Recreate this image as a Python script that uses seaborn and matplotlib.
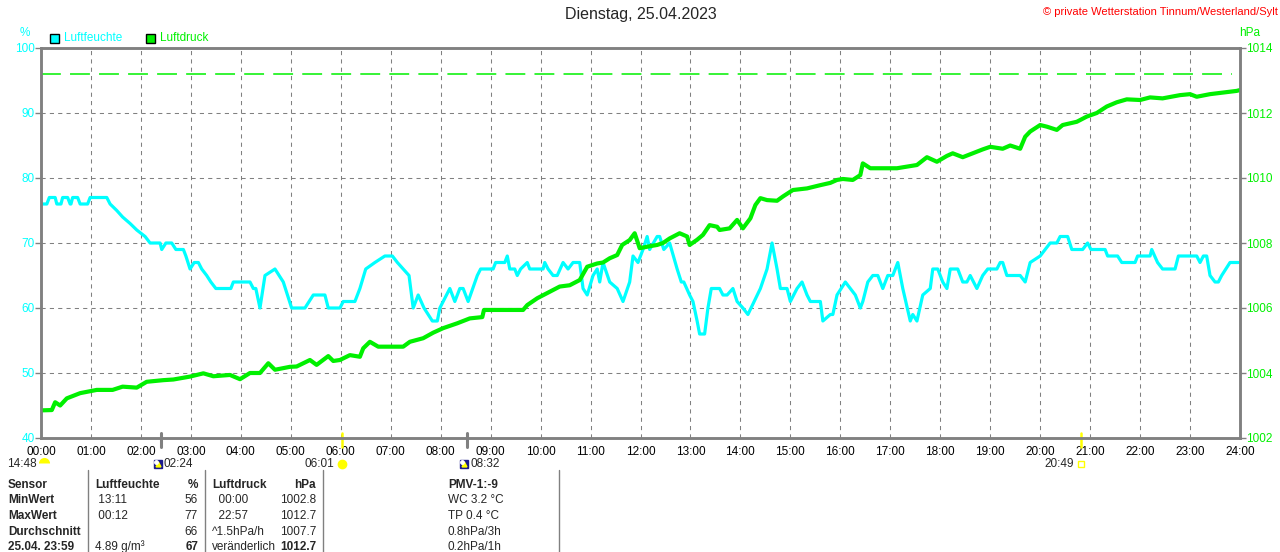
import matplotlib
matplotlib.use("Agg")
import matplotlib.pyplot as plt
from matplotlib.patches import Rectangle
from matplotlib.lines import Line2D
from matplotlib.transforms import ScaledTranslation
import seaborn as sns

sns.set_style("white")
plt.rcParams['font.family'] = ['Liberation Sans', 'DejaVu Sans']

# Luftfeuchte (%) - minutes since midnight / value
hum_min = [0, 7, 10, 17, 19, 24, 26, 32, 35, 36, 38, 44, 47, 56, 59, 79, 83, 91, 98, 107,
           115, 125, 131, 143, 145, 150, 157, 162, 171, 174, 179, 184, 189, 193, 199, 204,
           210, 228, 231, 251, 255, 258, 263, 269, 281, 291, 301, 317, 322, 327, 341, 345,
           359, 363, 377, 383, 390, 401, 413, 422, 428, 435, 442, 447, 453, 460, 470, 476,
           479, 491, 497, 503, 507, 513, 524, 528, 543, 546, 557, 560, 563, 569, 572, 576,
           584, 587, 603, 605, 609, 615, 620, 627, 633, 639, 647, 651, 656, 663, 668, 671,
           675, 683, 692, 699, 707, 711, 717, 723, 728, 731, 740, 743, 748, 755, 764, 769,
           772, 779, 783, 788, 791, 797, 801, 805, 815, 819, 824, 831, 836, 843, 849, 864,
           872, 878, 884, 888, 896, 900, 908, 914, 920, 924, 936, 939, 948, 951, 956, 966,
           972, 978, 984, 987, 993, 999, 1005, 1011, 1017, 1023, 1029, 1035, 1044, 1047,
           1052, 1059, 1068, 1071, 1077, 1083, 1088, 1092, 1101, 1107, 1112, 1116, 1124,
           1131, 1137, 1148, 1152, 1155, 1160, 1176, 1182, 1188, 1200, 1212, 1220, 1224,
           1233, 1238, 1251, 1257, 1261, 1278, 1281, 1293, 1298, 1314, 1317, 1332, 1334,
           1341, 1347, 1362, 1366, 1388, 1392, 1396, 1400, 1404, 1410, 1414, 1418, 1423,
           1428, 1438]
hum_val = [76, 76, 77, 77, 76, 76, 77, 77, 76, 76, 77, 77, 76, 76, 77, 77, 76, 75, 74, 73,
           72, 71, 70, 70, 69, 70, 70, 69, 69, 68, 66, 67, 67, 66, 65, 64,
           63, 63, 64, 64, 63, 63, 60, 65, 66, 64, 60, 60, 61, 62, 62, 60,
           60, 61, 61, 63, 66, 67, 68, 68, 67, 66, 65, 60, 62, 60, 58, 58,
           60, 63, 61, 63, 63, 61, 65, 66, 66, 67, 67, 68, 66, 66, 65, 66,
           67, 66, 66, 67, 66, 65, 65, 67, 66, 67, 67, 63, 62, 65, 66, 64,
           67, 64, 63, 61, 64, 68, 67, 69, 71, 69, 71, 71, 69, 70, 66, 64,
           64, 62, 61, 58, 56, 56, 60, 63, 63, 62, 62, 63, 61, 60, 59, 63,
           66, 70, 66, 63, 63, 61, 63, 64, 62, 61, 61, 58, 59, 59, 62, 64,
           63, 62, 60, 61, 64, 65, 65, 63, 65, 65, 67, 63, 58, 59,
           58, 62, 63, 66, 66, 64, 63, 66, 66, 64, 64, 65, 63,
           65, 66, 66, 67, 67, 65, 65, 64, 67, 68, 70, 70, 71,
           71, 69, 69, 70, 69, 69, 68, 68, 67, 67, 68, 68, 69,
           67, 66, 66, 68, 68, 67, 68, 68, 65, 64, 64, 65, 66,
           67, 67]

# Luftdruck (hPa)
prs_min = [0, 13, 17, 23, 31, 47, 67, 86, 98, 115, 127, 147, 159, 179, 195, 207, 227, 239,
           251, 263, 273, 281, 299, 307, 323, 331, 345, 351, 359, 371, 383, 387, 395, 405,
           435, 443, 459, 471, 483, 500, 515, 530, 532, 579, 584, 596, 611, 623, 635, 647,
           656, 668, 675, 683, 692, 698, 707, 713, 719, 731, 740, 747, 755, 767, 776, 779,
           788, 795, 803, 812, 815, 827, 836, 843, 852, 858, 864, 872, 884, 891, 903, 920,
           936, 948, 956, 963, 975, 984, 987, 996, 1028, 1040, 1052, 1064, 1076, 1088, 1095,
           1107, 1119, 1131, 1140, 1155, 1164, 1176, 1182, 1188, 1200, 1208, 1220, 1227,
           1244, 1256, 1268, 1280, 1292, 1304, 1320, 1332, 1347, 1368, 1380, 1388, 1404,
           1420, 1436, 1439]
prs_val = [1002.85, 1002.86, 1003.1, 1003.0, 1003.22, 1003.38, 1003.48, 1003.48, 1003.58,
           1003.55, 1003.73, 1003.78, 1003.8, 1003.89, 1003.99, 1003.9, 1003.94, 1003.81,
           1004.0, 1004.0, 1004.3, 1004.1, 1004.19, 1004.2, 1004.4, 1004.25, 1004.52, 1004.37,
           1004.4, 1004.55, 1004.5, 1004.76, 1004.96, 1004.81, 1004.81, 1004.96, 1005.07,
           1005.24, 1005.38, 1005.53, 1005.68, 1005.72, 1005.94, 1005.94, 1006.09, 1006.3,
           1006.5, 1006.66, 1006.7, 1006.86, 1007.27, 1007.37, 1007.4, 1007.53, 1007.63,
           1007.94, 1008.09, 1008.3, 1007.84, 1007.9, 1007.94, 1008.0, 1008.14, 1008.3,
           1008.2, 1007.94, 1008.1, 1008.25, 1008.55, 1008.5, 1008.4, 1008.45, 1008.71,
           1008.45, 1008.76, 1009.17, 1009.38, 1009.32, 1009.3, 1009.43, 1009.63, 1009.68,
           1009.78, 1009.85, 1009.94, 1009.97, 1009.94, 1010.09, 1010.45, 1010.3, 1010.3,
           1010.35, 1010.4, 1010.64, 1010.5, 1010.68, 1010.76, 1010.64, 1010.76, 1010.88,
           1010.96, 1010.9, 1011.0, 1010.9, 1011.27, 1011.43, 1011.63, 1011.58, 1011.48,
           1011.63, 1011.73, 1011.89, 1012.0, 1012.2, 1012.33, 1012.42, 1012.4, 1012.48,
           1012.45, 1012.55, 1012.58, 1012.5, 1012.58, 1012.63, 1012.68, 1012.7]
prs_ref = 1013.2

hour_labels = ["%02d:00" % h for h in range(25)]
hum_ticks = [40, 50, 60, 70, 80, 90, 100]
prs_ticks = [1002, 1004, 1006, 1008, 1010, 1012, 1014]

# Sonne / Mond (minutes)
sun_events = [("06:01", 361), ("20:49", 1249)]
moon_events = [("02:24", 144), ("08:32", 512)]

CYAN = "#00FFFF"
GREEN = "#00F000"
GRAY = "#808080"
YELLOW = "#FFFF00"

W, H = 1280, 552
fig = plt.figure(figsize=(W / 100, H / 100), dpi=100)
fig.patch.set_facecolor("white")


def px(x, y):
    return x / W, 1 - y / H


ax = fig.add_axes([41 / W, 114 / H, 1199 / W, 390 / H])
ax2 = ax.twinx()

sns.lineplot(x=hum_min, y=hum_val, ax=ax, color=CYAN, lw=2.3, estimator=None, sort=False)
sns.lineplot(x=prs_min, y=prs_val, ax=ax2, color=GREEN, lw=3.0, estimator=None, sort=False)
ax2.axhline(prs_ref, xmin=0, xmax=0.993, color=GREEN, lw=1.1, ls=(0, (13, 6)))

ax.set_xlim(0, 1440)
ax.set_ylim(40, 100)
ax2.set_ylim(1002, 1014)
ax.set_xticks(range(0, 1441, 60))
ax.set_xticklabels(hour_labels)
ax.set_yticks(hum_ticks)
ax2.set_yticks(prs_ticks)

ax.grid(True, color=GRAY, lw=0.75, ls=(0, (4, 4)))
ax.tick_params(axis="x", length=0, pad=6, labelsize=8.5, colors="black")
ax.tick_params(axis="y", length=4, width=1, color=GRAY, pad=0.5, labelsize=8.5, labelcolor=CYAN)
ax2.tick_params(axis="y", length=4, width=1, color=GRAY, pad=0.5, labelsize=8.5, labelcolor=GREEN)
ax.set_xlabel("")
ax.set_ylabel("")
ax2.set_ylabel("")
for a in (ax, ax2):
    for s in a.spines.values():
        s.set_color(GRAY)
        s.set_linewidth(1.8)

# Markierungen an der Zeitachse
xt = ax.get_xaxis_transform()
for lab, m in sun_events:
    ax.plot([m, m], [0.013, -0.023], transform=xt, color=YELLOW, lw=1.8, clip_on=False)
for lab, m in moon_events:
    ax.plot([m, m], [0.013, -0.023], transform=xt, color=GRAY, lw=2.2, clip_on=False)


def shifted(dx, dy):
    return xt + ScaledTranslation(dx / 100, dy / 100, fig.dpi_scale_trans)


ev_y = -26
ax.annotate("14:48", xy=(0, 0), xycoords=xt, xytext=(-4, ev_y), textcoords="offset pixels",
            ha="right", va="center", fontsize=8.5)
ax.plot([0], [0], marker="o", ms=8, color=YELLOW, fillstyle="top", markeredgewidth=0,
        clip_on=False, transform=shifted(3, ev_y + 1))

for lab, m in moon_events:
    ax.plot([m], [0], marker="s", ms=6, color="#1a1a8c", clip_on=False,
            transform=shifted(-3, ev_y))
    ax.plot([m], [0], marker="^", ms=3.5, color=YELLOW, clip_on=False,
            transform=shifted(-3, ev_y))
    ax.plot([m], [0], marker="o", ms=2.5, color="white", clip_on=False,
            transform=shifted(-5, ev_y + 2))
    ax.annotate(lab, xy=(m, 0), xycoords=xt, xytext=(3, ev_y), textcoords="offset pixels",
                ha="left", va="center", fontsize=8.5)

ax.plot([sun_events[0][1]], [0], marker="o", ms=6, color=YELLOW, clip_on=False,
        transform=shifted(0, ev_y))
ax.plot([sun_events[1][1]], [0], marker="s", ms=5, mfc="none", mec=YELLOW, mew=1,
        clip_on=False, transform=shifted(0, ev_y))
for lab, m in sun_events:
    ax.annotate(lab, xy=(m, 0), xycoords=xt, xytext=(-7, ev_y), textcoords="offset pixels",
                ha="right", va="center", fontsize=8.5)

# Kopf
fig.text(*px(641, 15), "Dienstag, 25.04.2023", ha="center", va="center", fontsize=11.5)
fig.text(*px(1278, 12), "© private Wetterstation Tinnum/Westerland/Sylt", ha="right",
         va="center", fontsize=8, color="#FF0000")
fig.text(*px(25, 33), "%", ha="center", va="center", fontsize=8.5, color=CYAN)
fig.text(*px(1250, 33), "hPa", ha="center", va="center", fontsize=8.5, color=GREEN)
for x0, lab, col in [(50, "Luftfeuchte", CYAN), (146, "Luftdruck", GREEN)]:
    fig.add_artist(Rectangle(px(x0, 43), 9 / W, 9 / H, transform=fig.transFigure,
                             facecolor=col, edgecolor="black", lw=1))
    fig.text(*px(x0 + 14, 38), lab, ha="left", va="center", fontsize=8.5, color=col)

# Tabelle
for xv in [88, 205, 323, 559]:
    fig.add_artist(Line2D([xv / W, xv / W], [1 - 470 / H, 0], transform=fig.transFigure,
                          color=GRAY, lw=1))

rows_y = [485, 500, 516, 532, 547]
col_sensor = ["Sensor", "MinWert", "MaxWert", "Durchschnitt", "25.04. 23:59"]
col_hum_t = ["Luftfeuchte", " 13:11", " 00:12", "", "4.89 g/m³"]
col_hum_v = ["%", "56", "77", "66", "67"]
col_prs_t = ["Luftdruck", "  00:00", "  22:57", "^1.5hPa/h", "veränderlich"]
col_prs_v = ["hPa", "1002.8", "1012.7", "1007.7", "1012.7"]
col_pmv = ["PMV-1:-9", "WC 3.2 °C", "TP 0.4 °C", "0.8hPa/3h", "0.2hPa/1h"]

for i, y in enumerate(rows_y):
    head = i == 0
    last = i == len(rows_y) - 1
    fig.text(*px(8, y), col_sensor[i], ha="left", va="center", fontsize=8.5, weight="bold")
    fig.text(*px(95, y), col_hum_t[i], ha="left", va="center", fontsize=8.5,
             weight="bold" if head else "normal")
    fig.text(*px(198, y), col_hum_v[i], ha="right", va="center", fontsize=8.5,
             weight="bold" if head or last else "normal")
    fig.text(*px(212, y), col_prs_t[i], ha="left", va="center", fontsize=8.5,
             weight="bold" if head else "normal")
    fig.text(*px(316, y), col_prs_v[i], ha="right", va="center", fontsize=8.5,
             weight="bold" if head or last else "normal")
    fig.text(*px(448, y), col_pmv[i], ha="left", va="center", fontsize=8.5,
             weight="bold" if head else "normal")

fig.savefig("out.png", dpi=100)
